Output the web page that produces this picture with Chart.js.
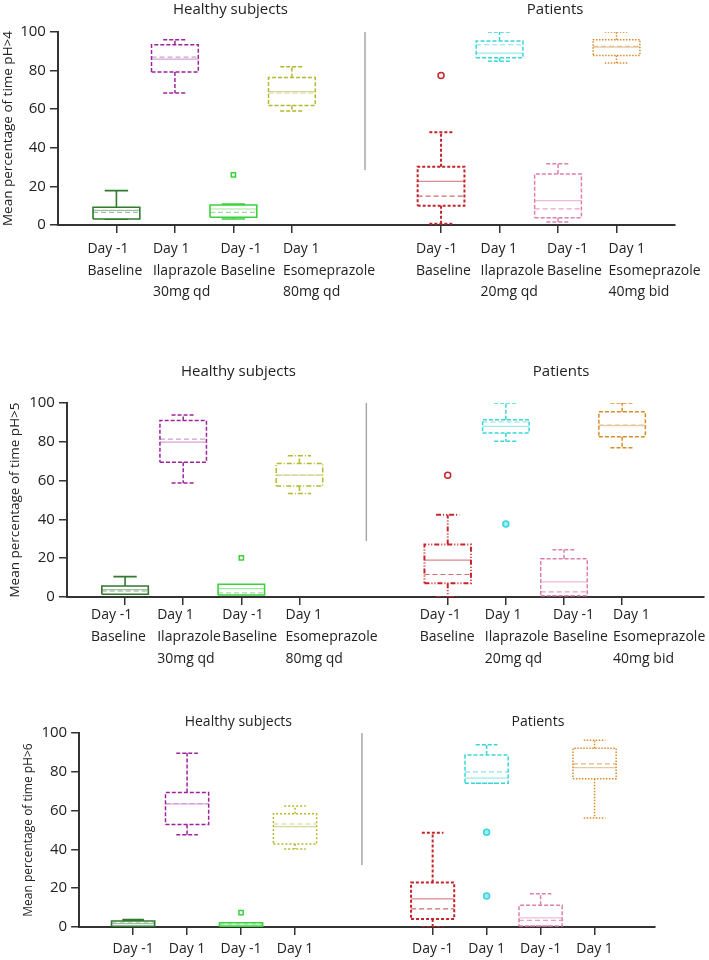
<!DOCTYPE html>
<html>
<head>
<meta charset="utf-8">
<script src="https://cdn.jsdelivr.net/npm/chart.js@4.4.1/dist/chart.umd.min.js"></script>
<style>
  body { margin: 0; background: #fff; }
  #wrap { position: relative; width: 709px; height: 960px; }
  canvas { position: absolute; left: 0; }
</style>
</head>
<body>
<div id="wrap">
  <canvas id="ph4" width="709" height="312" style="top:0px"></canvas>
  <canvas id="ph5" width="709" height="335" style="top:340px"></canvas>
  <canvas id="ph6" width="709" height="262" style="top:698px"></canvas>
</div>
<script>
// categories (x positions on the shared axis, patients shifted right)
const positions = [1, 2, 3, 4, 6.55, 7.55, 8.55, 9.55];
const labelsFull = [
  ['Day -1', 'Baseline'], ['Day 1', 'Ilaprazole', '30mg qd'],
  ['Day -1', 'Baseline'], ['Day 1', 'Esomeprazole', '80mg qd'],
  ['Day -1', 'Baseline'], ['Day 1', 'Ilaprazole', '20mg qd'],
  ['Day -1', 'Baseline'], ['Day 1', 'Esomeprazole', '40mg bid']
];
const labelsShort = ['Day -1', 'Day 1', 'Day -1', 'Day 1', 'Day -1', 'Day 1', 'Day -1', 'Day 1'];

// pH > 4
const ph4Min  = [3, 68.4, 3.1, 59.1, 0.7, 84.8, 1.6, 84];
const ph4Q1   = [3.1, 79.3, 4, 61.9, 10, 86.6, 3.8, 87.8];
const ph4Med  = [7.6, 85.9, 8.3, 69.1, 22.6, 89.1, 12.6, 92.2];
const ph4Mean = [6.6, 87, 6.5, 68.4, 15, 93.4, 8.4, 92.6];
const ph4Q3   = [9.2, 93.4, 10.4, 76.4, 30.2, 95.3, 26.4, 96];
const ph4Max  = [17.8, 96, 10.8, 82, 48.1, 100, 31.7, 100];
const ph4Out  = [[], [], [26], [], [77.4], [], [], []];

// pH > 5
const ph5Min  = [1.4, 58.8, 1, 53.4, 0, 80.3, 0.7, 76.9];
const ph5Q1   = [1.4, 69.5, 1, 57.2, 7.1, 84.5, 0.7, 82.6];
const ph5Med  = [3.8, 79.8, 4.3, 62.8, 19, 87.9, 7.8, 88.3];
const ph5Mean = [3.1, 81.4, 2.1, 62.8, 11.6, 90.2, 2.6, 88.6];
const ph5Q3   = [5.7, 91, 6.6, 68.8, 27.1, 91.4, 19.7, 95.5];
const ph5Max  = [10.5, 93.8, 6.6, 72.8, 42.4, 100, 24.3, 100];
const ph5Out  = [[], [], [20.2], [], [62.8], [37.6], [], []];

// pH > 6
const ph6Min  = [0.3, 47.6, 0.3, 40.2, 0, 74.1, 0.5, 56.2];
const ph6Q1   = [0.3, 52.8, 0.3, 42.8, 4.1, 74.1, 0.5, 76.4];
const ph6Med  = [1.7, 63.4, 1, 51.7, 14.5, 76.7, 4.7, 82.2];
const ph6Mean = [2, 63.6, 1.5, 53.1, 9.3, 80, 3.4, 84.1];
const ph6Q3   = [3.1, 69.3, 2.2, 58.4, 22.9, 88.6, 11.2, 92.1];
const ph6Max  = [3.8, 89.5, 2.2, 62.4, 48.6, 94, 17.1, 96.2];
const ph6Out  = [[], [], [7.4], [], [], [48.8, 16], [], []];

// colours per group
const boxColors    = ['#2f7a2f', '#9c239c', '#3cd23c', '#b4b82a', '#c4242a', '#38d6d9', '#de7fae', '#d98c2a'];
const medianColors = ['#9cc49c', '#d6a0d6', '#9fe89f', '#d6d79a', '#d98a8c', '#9feaea', '#efbcd5', '#e8c9a0'];
const meanColors   = ['#8aa88a', '#c8a4c8', '#a6dca6', '#d0d09a', '#d06a6c', '#8fe0e0', '#e79fc2', '#d9b98a'];
const boxWidths    = [1.6, 1.5, 1.6, 1.5, 2, 1.5, 1.5, 1.5];
const outStyles    = ['circle', 'circle', 'rect', 'circle', 'circle', 'circle', 'circle', 'circle'];

const boxHalf = 0.4;
const capHalf = 0.2;

function boxDatasets(st, dashes, outliers) {
  const sets = [];
  positions.forEach((c, i) => {
    const l = c - boxHalf, r = c + boxHalf, cl = c - capHalf, cr = c + capHalf;
    sets.push({
      data: [
        {x: l, y: st.q1[i]}, {x: r, y: st.q1[i]}, {x: r, y: st.q3[i]}, {x: l, y: st.q3[i]}, {x: l, y: st.q1[i]},
        {x: c, y: null},
        {x: c, y: st.q3[i]}, {x: c, y: st.max[i]}, {x: c, y: null},
        {x: cl, y: st.max[i]}, {x: cr, y: st.max[i]}, {x: c, y: null},
        {x: c, y: st.q1[i]}, {x: c, y: st.min[i]}, {x: c, y: null},
        {x: cl, y: st.min[i]}, {x: cr, y: st.min[i]}
      ],
      showLine: true,
      borderColor: boxColors[i],
      borderWidth: boxWidths[i],
      borderDash: dashes[i],
      pointRadius: 0
    });
    sets.push({
      data: [{x: l, y: st.med[i]}, {x: r, y: st.med[i]}],
      showLine: true, borderColor: medianColors[i], borderWidth: 1.2, pointRadius: 0
    });
    sets.push({
      data: [{x: l, y: st.mean[i]}, {x: r, y: st.mean[i]}],
      showLine: true, borderColor: meanColors[i], borderWidth: 1.2, borderDash: [5, 3], pointRadius: 0
    });
    if (outliers[i].length) {
      sets.push({
        data: outliers[i].map(v => ({x: c, y: v})),
        showLine: false,
        pointStyle: outStyles[i],
        pointRadius: 3,
        borderColor: boxColors[i],
        borderWidth: 1.5,
        backgroundColor: i === 5 ? '#9feaea' : '#ffffff'
      });
    }
  });
  return sets;
}

// group titles above the plot
const panelTitles = {
  id: 'panelTitles',
  afterDraw(chart, args, opts) {
    const ctx = chart.ctx;
    const x = chart.scales.x;
    ctx.save();
    ctx.font = opts.size + 'px "Open Sans"';
    ctx.fillStyle = '#222';
    ctx.textAlign = 'center';
    ctx.textBaseline = 'middle';
    opts.items.forEach(t => ctx.fillText(t.text, x.getPixelForValue(t.x), chart.chartArea.top - opts.offset));
    ctx.restore();
  }
};

// category labels under the x axis (several rows, slightly offset like the original)
const xLabels = {
  id: 'xLabels',
  afterDraw(chart, args, opts) {
    const ctx = chart.ctx;
    const x = chart.scales.x;
    const base = chart.chartArea.bottom;
    ctx.save();
    ctx.font = opts.size + 'px "Open Sans"';
    ctx.fillStyle = '#222';
    ctx.textBaseline = 'middle';
    ctx.textAlign = opts.shifts ? 'left' : 'center';
    positions.forEach((p, i) => {
      const px = x.getPixelForValue(p) + (opts.shifts ? opts.shifts[i] : 0);
      [].concat(opts.labels[i]).forEach((line, k) => ctx.fillText(line, px, base + opts.rows[k]));
    });
    ctx.restore();
  }
};

function makePanel(id, cfg) {
  const ctx = document.getElementById(id).getContext('2d');
  const datasets = boxDatasets(cfg.stats, cfg.dashes, cfg.outliers);
  datasets.unshift({
    data: [{x: cfg.sepX, y: 100}, {x: cfg.sepX, y: cfg.sepBottom}],
    showLine: true, borderColor: '#a8a8a8', borderWidth: 1.5, pointRadius: 0
  });
  return new Chart(ctx, {
    type: 'scatter',
    data: { datasets: datasets },
    plugins: [panelTitles, xLabels],
    options: {
      responsive: false,
      animation: false,
      layout: { padding: cfg.padding },
      plugins: {
        legend: { display: false },
        tooltip: { enabled: false },
        panelTitles: { items: [{text: 'Healthy subjects', x: 2.95}, {text: 'Patients', x: 8.5}], offset: cfg.titleOffset, size: cfg.titleSize },
        xLabels: { labels: cfg.labels, shifts: cfg.shifts, rows: cfg.rows, size: 14 }
      },
      scales: {
        x: {
          type: 'linear', min: 0, max: cfg.xMax,
          afterBuildTicks: axis => { axis.ticks = positions.map(v => ({value: v})); },
          ticks: { display: false },
          grid: { drawOnChartArea: false, drawTicks: true, tickLength: 8, color: '#333', lineWidth: 1.5 },
          border: { color: '#333', width: 2 }
        },
        y: {
          min: 0, max: 100,
          ticks: {
            stepSize: 10, padding: 4, color: '#222',
            font: { family: 'Open Sans', size: 15 },
            callback: v => (v % 20 === 0 ? v : '')
          },
          grid: { drawOnChartArea: false, drawTicks: true, tickLength: 8, color: '#333', lineWidth: 1.5 },
          border: { color: '#333', width: 2 },
          title: { display: true, text: cfg.yTitle, color: '#222', font: { family: 'Open Sans', size: cfg.yTitleSize }, padding: cfg.yTitlePad }
        }
      }
    }
  });
}

const c4 = makePanel('ph4', {
  stats: {min: ph4Min, q1: ph4Q1, med: ph4Med, mean: ph4Mean, q3: ph4Q3, max: ph4Max},
  outliers: ph4Out,
  dashes: [[], [4, 2], [], [4, 2], [3, 2], [4, 2], [4, 2], [1.5, 1.5]],
  labels: labelsFull, rows: [24, 46, 67],
  shifts: [-29, -22, -13, -9, -25, -19, -11, -8],
  xMax: 10.55, sepX: 5.25, sepBottom: 28.5,
  padding: {top: 32, bottom: 79, left: 0, right: 34},
  titleOffset: 22, titleSize: 15,
  yTitle: 'Mean percentage of time pH>4', yTitleSize: 13.5, yTitlePad: 0
});
const c5 = makePanel('ph5', {
  stats: {min: ph5Min, q1: ph5Q1, med: ph5Med, mean: ph5Mean, q3: ph5Q3, max: ph5Max},
  outliers: ph5Out,
  dashes: [[], [4, 2], [], [5, 2, 1, 2], [5, 2, 1, 2, 1, 2], [4, 2], [4, 2], [4, 2]],
  labels: labelsFull, rows: [18, 40, 62],
  shifts: [-34, -26, -19, -14, -28, -21, -11, -9],
  xMax: 10.95, sepX: 5.15, sepBottom: 28.9,
  padding: {top: 63, bottom: 70, left: 5, right: 0},
  titleOffset: 31, titleSize: 15,
  yTitle: 'Mean percentage of time pH>5', yTitleSize: 13.5, yTitlePad: 2
});
const c6 = makePanel('ph6', {
  stats: {min: ph6Min, q1: ph6Q1, med: ph6Med, mean: ph6Mean, q3: ph6Q3, max: ph6Max},
  outliers: ph6Out,
  dashes: [[], [4, 2], [], [2, 2], [3, 2], [4, 2], [4, 2], [1.5, 1.5]],
  labels: labelsShort, rows: [22], shifts: null,
  xMax: 10.67, sepX: 5.24, sepBottom: 32,
  padding: {top: 35, bottom: 25, left: 19, right: 54},
  titleOffset: 11, titleSize: 14,
  yTitle: 'Mean percentage of time pH>6', yTitleSize: 12, yTitlePad: 2
});
</script>
</body>
</html>
